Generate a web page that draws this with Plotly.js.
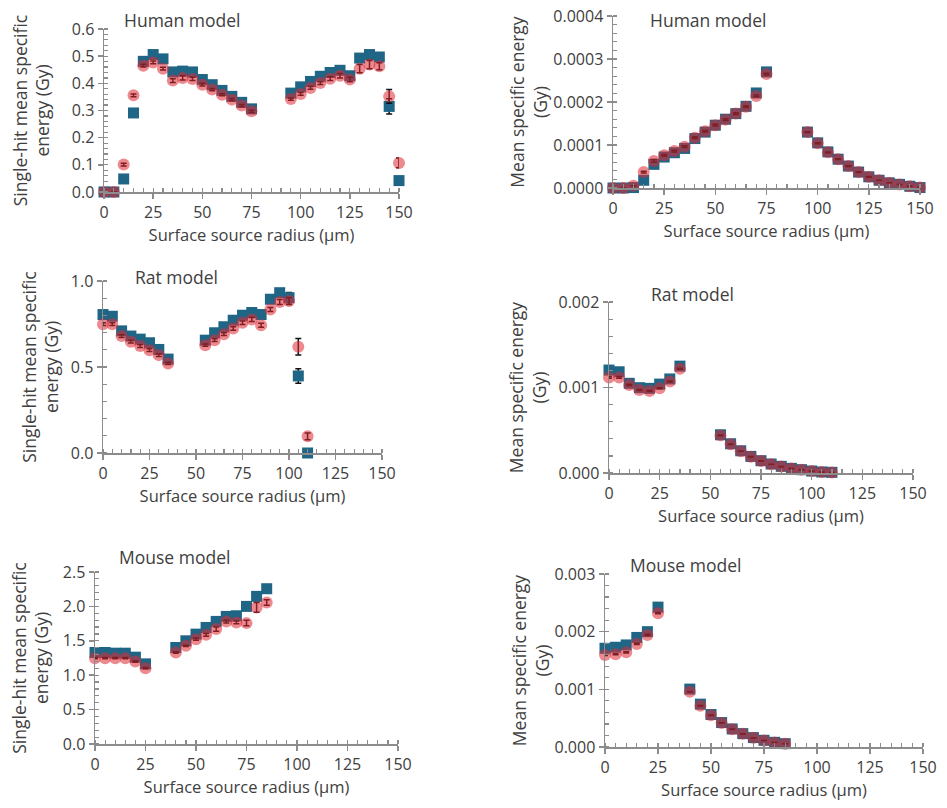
<!DOCTYPE html>
<html>
<head>
<meta charset="utf-8">
<script src="https://cdn.plot.ly/plotly-3.0.1.min.js"></script>
<style>html,body{margin:0;padding:0;background:#fff;}#chart{width:947px;height:808px;}</style>
</head>
<body>
<div id="chart"></div>
<script>
// ---------------- data ----------------
const humanR = [0,5,10,15,20,25,30,35,40,45,50,55,60,65,70,75,95,100,105,110,115,120,125,130,135,140,145,150];
const humanSingleSq = [0,0,0.048,0.291,0.481,0.506,0.490,0.442,0.445,0.442,0.414,0.395,0.374,0.352,0.330,0.306,0.364,0.387,0.407,0.426,0.440,0.448,0.428,0.493,0.506,0.497,0.315,0.042];
const humanSingleSqErr = [0,0,0.002,0.004,0.004,0.004,0.004,0.004,0.004,0.004,0.004,0.004,0.004,0.004,0.004,0.004,0.004,0.004,0.004,0.004,0.004,0.004,0.004,0.006,0.008,0.012,0.028,0.004];
const humanSingleCi = [0,0,0.101,0.356,0.465,0.477,0.454,0.410,0.420,0.416,0.395,0.377,0.358,0.340,0.318,0.297,0.342,0.361,0.383,0.401,0.417,0.428,0.414,0.454,0.469,0.463,0.352,0.107];
const humanSingleCiErr = [0,0,0.005,0.005,0.005,0.005,0.005,0.007,0.008,0.006,0.005,0.004,0.004,0.004,0.004,0.004,0.004,0.005,0.005,0.005,0.007,0.008,0.008,0.015,0.015,0.013,0.025,0.018];
const humanMeanSq = [0,0,0.000001,0.000018,0.000055,0.000072,0.000082,0.000092,0.000115,0.00013,0.000146,0.00016,0.000173,0.00019,0.000221,0.00027,0.00013,0.000105,0.000084,0.000067,0.000051,0.000037,0.000026,0.000018,0.000012,0.0000085,0.000004,0.000001];
const humanMeanCi = [0,0,0.000005,0.000037,0.000063,0.000076,0.000086,0.000096,0.000117,0.000132,0.000146,0.000159,0.000173,0.000189,0.000214,0.000265,0.00013,0.000104,0.000083,0.000067,0.000051,0.000037,0.000026,0.000018,0.000012,0.000008,0.000004,0.000001];
const humanMeanCiErr = [0,0,0,0.000002,0.000003,0.000002,0.000002,0.000002,0.000002,0.000002,0.000002,0.000002,0.000002,0.000002,0.000002,0.000002,0.000001,0.000001,0.000001,0.000001,0.000001,0.000001,0.000001,0,0,0,0,0];

const ratR = [0,5,10,15,20,25,30,35,55,60,65,70,75,80,85,90,95,100,105,110];
const ratSingleSq = [0.805,0.795,0.710,0.680,0.662,0.641,0.602,0.546,0.656,0.699,0.734,0.772,0.801,0.817,0.805,0.894,0.932,0.903,0.448,0.0];
const ratSingleSqErr = [0.005,0.005,0.005,0.005,0.005,0.005,0.005,0.005,0.005,0.005,0.005,0.005,0.005,0.006,0.006,0.008,0.01,0.03,0.042,0];
const ratSingleCi = [0.749,0.749,0.680,0.647,0.622,0.598,0.569,0.521,0.627,0.656,0.691,0.724,0.757,0.776,0.743,0.834,0.878,0.884,0.618,0.097];
const ratSingleCiErr = [0.008,0.008,0.008,0.008,0.008,0.008,0.008,0.006,0.006,0.008,0.008,0.01,0.01,0.012,0.012,0.012,0.015,0.02,0.048,0.02];
const ratMeanSq = [0.001204,0.001184,0.001049,0.000998,0.00099,0.00104,0.0011,0.00125,0.000447,0.000342,0.00026,0.000194,0.000144,0.000105,0.000078,0.000054,0.000039,0.000023,0.000012,0.000008];
const ratMeanCi = [0.001118,0.001118,0.00103,0.00097,0.00096,0.00099,0.00107,0.00122,0.00044,0.000336,0.000255,0.00019,0.00014,0.000102,0.000075,0.000052,0.000037,0.000022,0.000011,0.000007];
const ratMeanCiErr = [0.00001,0.00001,0.000008,0.000006,0.000006,0.000006,0.000006,0.000006,0.000003,0.000003,0.000002,0.000002,0.000002,0.000001,0.000001,0.000001,0.000001,0.000001,0.000001,0];

const mouseR = [0,5,10,15,20,25,40,45,50,55,60,65,70,75,80,85];
const mouseSingleSq = [1.330,1.330,1.320,1.320,1.262,1.165,1.403,1.50,1.597,1.694,1.782,1.854,1.864,2.0,2.146,2.257];
const mouseSingleCi = [1.248,1.248,1.248,1.248,1.2,1.102,1.33,1.427,1.524,1.587,1.67,1.78,1.767,1.757,1.985,2.058];
const mouseSingleCiErr = [0.01,0.01,0.01,0.01,0.01,0.01,0.01,0.01,0.015,0.02,0.03,0.02,0.02,0.04,0.07,0.04];
const mouseMeanSq = [0.001712,0.00173,0.00177,0.0019,0.002,0.002426,0.001004,0.000743,0.000563,0.000424,0.000313,0.000232,0.000163,0.000116,0.000081,0.000058];
const mouseMeanCi = [0.001596,0.001608,0.001642,0.001787,0.001944,0.002321,0.000958,0.000714,0.00055,0.000418,0.000308,0.000228,0.00016,0.000113,0.000079,0.000056];
const mouseMeanCiErr = [0.00001,0.00001,0.00001,0.00001,0.00001,0.00001,0.000005,0.000004,0.000003,0.000003,0.000002,0.000002,0.000002,0.000001,0.000001,0.000001];

const panelTitles = ['Human model','Human model','Rat model','Rat model','Mouse model','Mouse model'];
const xTitle = 'Surface source radius (µm)';
const yTitleSingle = 'Single-hit mean specific<br>energy (Gy)';
const yTitleMean = 'Mean specific energy<br>(Gy)';

// ---------------- style ----------------
const FONT = '"Open Sans", "Noto Sans", sans-serif';
const TXT = '#404040';
const AX = '#8c8c8c';
const TEAL = '#1f6586';
const PINK = 'rgba(222,42,52,0.55)';
const W = 947, H = 808;

function xd(l, r){ return [l/W, r/W]; }
function yd(top, bottom){ return [1-bottom/H, 1-top/H]; }

function sqTrace(x, y, err, ax){
  const t = {x:x, y:y, type:'scatter', mode:'markers', xaxis:'x'+ax, yaxis:'y'+ax,
    marker:{symbol:'square', size:11, color:TEAL, line:{width:0}},
    cliponaxis:false, showlegend:false, hoverinfo:'x+y'};
  if (err) t.error_y = {type:'data', array:err, visible:true, color:'#111', thickness:1.5, width:3};
  return t;
}
function ciTrace(x, y, err, ax){
  const t = {x:x, y:y, type:'scatter', mode:'markers', xaxis:'x'+ax, yaxis:'y'+ax,
    marker:{symbol:'circle', size:12, color:PINK, line:{width:0}},
    cliponaxis:false, showlegend:false, hoverinfo:'x+y'};
  if (err) t.error_y = {type:'data', array:err, visible:true, color:'#111', thickness:1.5, width:3};
  return t;
}

const data = [
  sqTrace(humanR, humanSingleSq, humanSingleSqErr, ''),
  ciTrace(humanR, humanSingleCi, humanSingleCiErr, ''),
  sqTrace(humanR, humanMeanSq, null, '2'),
  ciTrace(humanR, humanMeanCi, humanMeanCiErr, '2'),
  sqTrace(ratR, ratSingleSq, ratSingleSqErr, '3'),
  ciTrace(ratR, ratSingleCi, ratSingleCiErr, '3'),
  sqTrace(ratR, ratMeanSq, null, '4'),
  ciTrace(ratR, ratMeanCi, ratMeanCiErr, '4'),
  sqTrace(mouseR, mouseSingleSq, null, '5'),
  ciTrace(mouseR, mouseSingleCi, mouseSingleCiErr, '5'),
  sqTrace(mouseR, mouseMeanSq, null, '6'),
  ciTrace(mouseR, mouseMeanCi, mouseMeanCiErr, '6')
];

function xAxis(domain, anchor, standoff){
  return {domain:domain, anchor:anchor, range:[0,150], dtick:25, tick0:0,
    showline:true, linecolor:AX, linewidth:1.5, ticks:'outside', ticklen:5, tickwidth:1.5, tickcolor:AX,
    minor:{dtick:5, ticks:'inside', ticklen:4, tickwidth:1.2, tickcolor:AX, showgrid:false},
    showgrid:false, zeroline:false, fixedrange:true, automargin:false,
    tickfont:{family:FONT, size:16, color:TXT},
    title:{text:xTitle, font:{family:FONT, size:16.5, color:TXT}, standoff:standoff}};
}
function yAxis(domain, anchor, range, dtick, minor, fmt, title, standoff){
  return {domain:domain, anchor:anchor, range:range, dtick:dtick, tick0:0, tickformat:fmt,
    showline:true, linecolor:AX, linewidth:1.5, ticks:'outside', ticklen:5, tickwidth:1.5, tickcolor:AX,
    minor:{dtick:minor, ticks:'inside', ticklen:4, tickwidth:1.2, tickcolor:AX, showgrid:false},
    showgrid:false, zeroline:false, fixedrange:true, automargin:false,
    tickfont:{family:FONT, size:16, color:TXT},
    title:{text:title, font:{family:FONT, size:17.5, color:TXT}, standoff:standoff}};
}

const layout = {
  width:W, height:H, margin:{l:0, r:0, t:0, b:0}, paper_bgcolor:'#fff', plot_bgcolor:'rgba(0,0,0,0)',
  font:{family:FONT, color:TXT},
  xaxis:  xAxis(xd(104,399), 'y', 4),
  yaxis:  yAxis(yd(29,192),  'x',  [0,0.6],    0.1,    0.02,    '.1f', yTitleSingle, 17),
  xaxis2: xAxis(xd(613,920), 'y2', 2),
  yaxis2: yAxis(yd(16,188),  'x2', [0,0.0004], 0.0001, 0.00002, '.4f', yTitleMean, 1),
  xaxis3: xAxis(xd(103,382), 'y3', 2),
  yaxis3: yAxis(yd(281,453), 'x3', [0,1.0],    0.5,    0.1,     '.1f', yTitleSingle, 7),
  xaxis4: xAxis(xd(609,913), 'y4', 2),
  yaxis4: yAxis(yd(302,473), 'x4', [0,0.002],  0.001,  0.0002,  '.3f', yTitleMean, 7),
  xaxis5: xAxis(xd(95,398),  'y5', 3),
  yaxis5: yAxis(yd(572,744), 'x5', [0,2.5],    0.5,    0.1,     '.1f', yTitleSingle, 9),
  xaxis6: xAxis(xd(605,923), 'y6', 2),
  yaxis6: yAxis(yd(574,747), 'x6', [0,0.003],  0.001,  0.0002,  '.3f', yTitleMean, 0),
  annotations: [
    [122,20],[648,20],[133,277],[649,294],[117,557],[628,565]
  ].map(function(p,i){
    return {text:panelTitles[i], xref:'paper', yref:'paper', x:p[0]/W, y:1-p[1]/H,
      xanchor:'left', yanchor:'middle', showarrow:false, font:{family:FONT, size:17.5, color:TXT}};
  })
};

Plotly.newPlot('chart', data, layout, {displayModeBar:false, staticPlot:true});
</script>
</body>
</html>
